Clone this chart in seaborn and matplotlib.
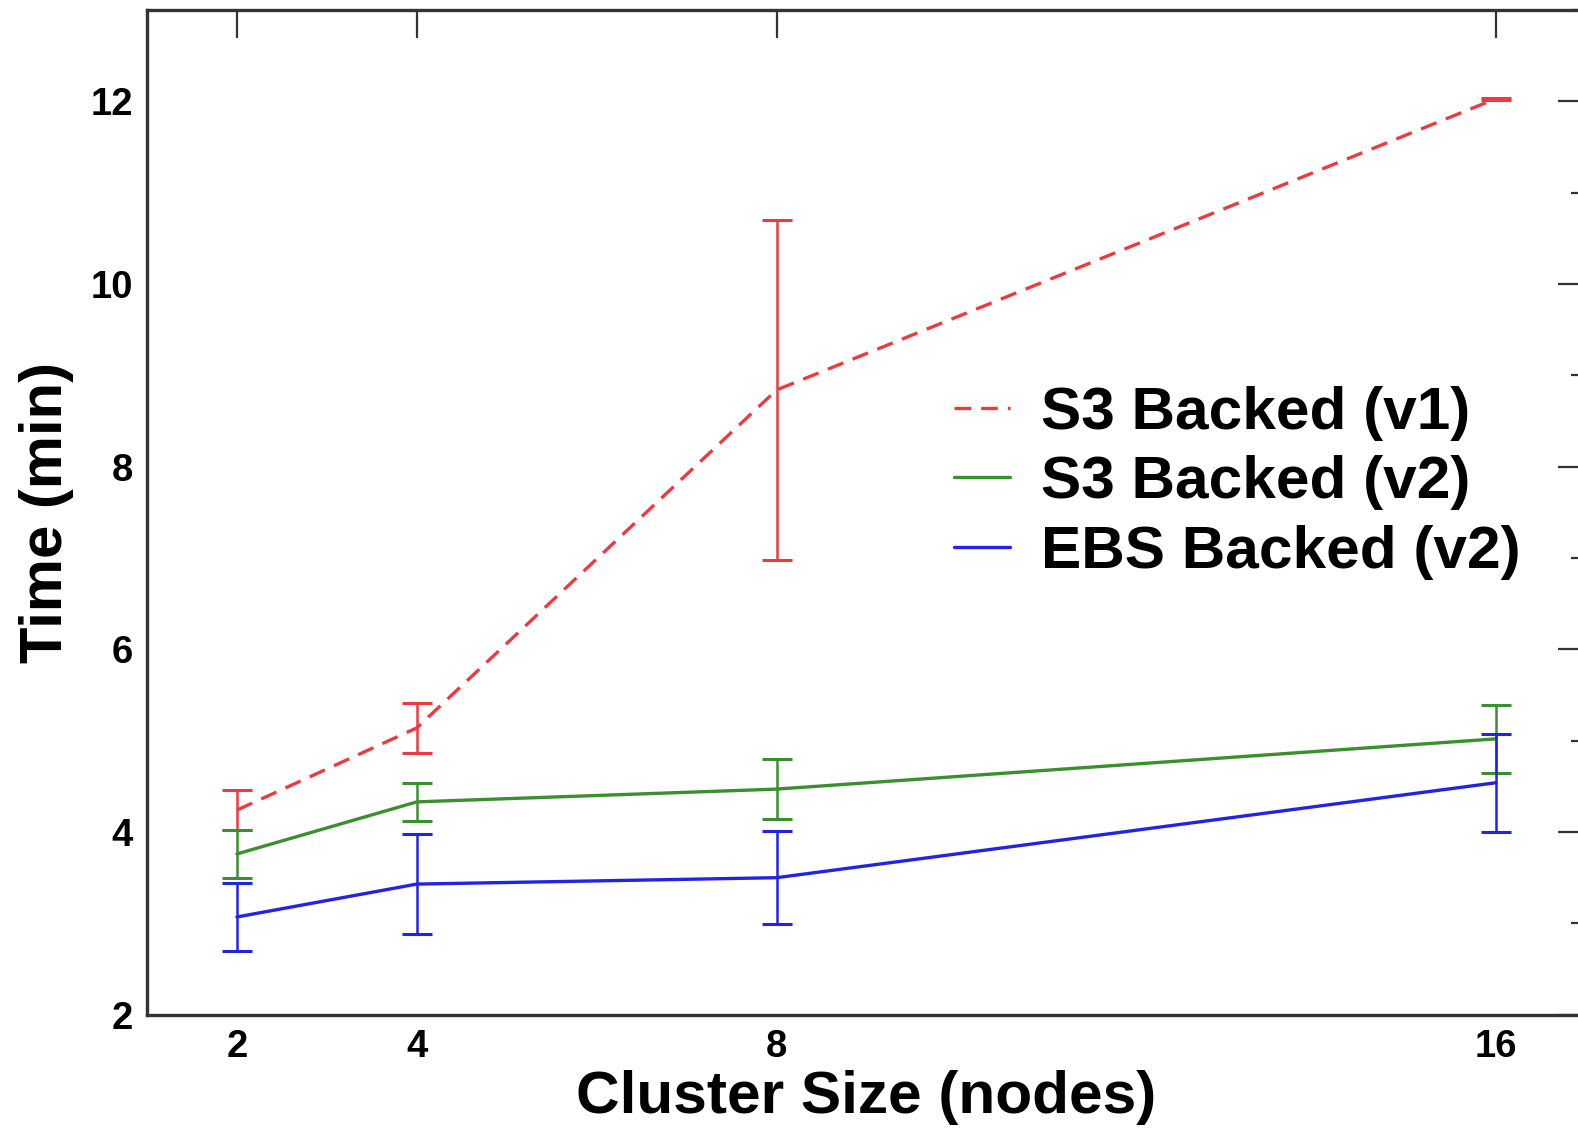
import numpy as np
import pandas as pd
import matplotlib
matplotlib.use("Agg")
import matplotlib.pyplot as plt
import seaborn as sns
from matplotlib.ticker import MultipleLocator, FixedLocator

# ---- data ----
nodes = [2, 4, 8, 16]
series_names = ["S3 Backed (v1)", "S3 Backed (v2)", "EBS Backed (v2)"]
s3_v1_mean = [4.24, 5.14, 8.84, 12.03]
s3_v1_err = [0.22, 0.27, 1.86, 0.01]
s3_v2_mean = [3.76, 4.33, 4.47, 5.02]
s3_v2_err = [0.26, 0.21, 0.33, 0.37]
ebs_v2_mean = [3.07, 3.43, 3.50, 4.54]
ebs_v2_err = [0.37, 0.55, 0.51, 0.535]
x_ticks = [2, 4, 8, 16]
y_ticks = [2, 4, 6, 8, 10, 12]

means = [s3_v1_mean, s3_v2_mean, ebs_v2_mean]
errs = [s3_v1_err, s3_v2_err, ebs_v2_err]
colors = {"S3 Backed (v1)": "#ec3b40", "S3 Backed (v2)": "#3a8f2e", "EBS Backed (v2)": "#2323e6"}

df = pd.DataFrame({
    "nodes": nodes * 3,
    "time": s3_v1_mean + s3_v2_mean + ebs_v2_mean,
    "series": sum([[n] * len(nodes) for n in series_names], []),
})

sns.set_style("white")
plt.rcParams["font.family"] = ["Liberation Sans", "DejaVu Sans"]
plt.rcParams["font.weight"] = "bold"
plt.rcParams["text.color"] = "black"
plt.rcParams["axes.labelcolor"] = "black"
plt.rcParams["xtick.color"] = "black"
plt.rcParams["ytick.color"] = "black"

fig = plt.figure(figsize=(15.78, 11.34), dpi=100)
ax = fig.add_axes([147 / 1578, 119.3 / 1134, (1586 - 147) / 1578, (1014.7 - 10) / 1134])

sns.lineplot(data=df, x="nodes", y="time", hue="series", style="series",
             hue_order=series_names, style_order=series_names,
             palette=colors, dashes={"S3 Backed (v1)": (5.0, 3.0), "S3 Backed (v2)": "", "EBS Backed (v2)": ""},
             linewidth=2.4, ax=ax, legend=True, errorbar=None)

for name, m, e in zip(series_names, means, errs):
    ax.errorbar(nodes, m, yerr=e, fmt="none", ecolor=colors[name],
                elinewidth=1.8, capsize=10.8, capthick=2.2)

ax.set_xlim(1, 17)
ax.set_ylim(2, 13)
ax.xaxis.set_major_locator(FixedLocator(x_ticks))
ax.yaxis.set_major_locator(FixedLocator(y_ticks))
ax.yaxis.set_minor_locator(MultipleLocator(1))
ax.tick_params(which="both", direction="in", top=True, right=True, color="#333333", width=1.6)
ax.tick_params(which="major", length=20, labelsize=27.5, pad=10)
ax.tick_params(which="minor", length=11)
for lab in ax.get_xticklabels() + ax.get_yticklabels():
    lab.set_fontweight("bold")
for sp in ax.spines.values():
    sp.set_linewidth(2.4)
    sp.set_color("#333333")

ax.set_xlabel("Cluster Size (nodes)", fontsize=43.5, fontweight="bold", labelpad=4)
ax.set_ylabel("Time (min)", fontsize=43, fontweight="bold", labelpad=12)

handles = ax.get_legend().legend_handles
leg = ax.legend(handles=handles, labels=series_names, loc="upper left", bbox_to_anchor=(0.523, 0.68),
                frameon=False, fontsize=43.5, handlelength=0.92, handletextpad=0.52, labelspacing=0.24)
for t in leg.get_texts():
    t.set_fontweight("bold")

fig.savefig("out.png", dpi=100)
